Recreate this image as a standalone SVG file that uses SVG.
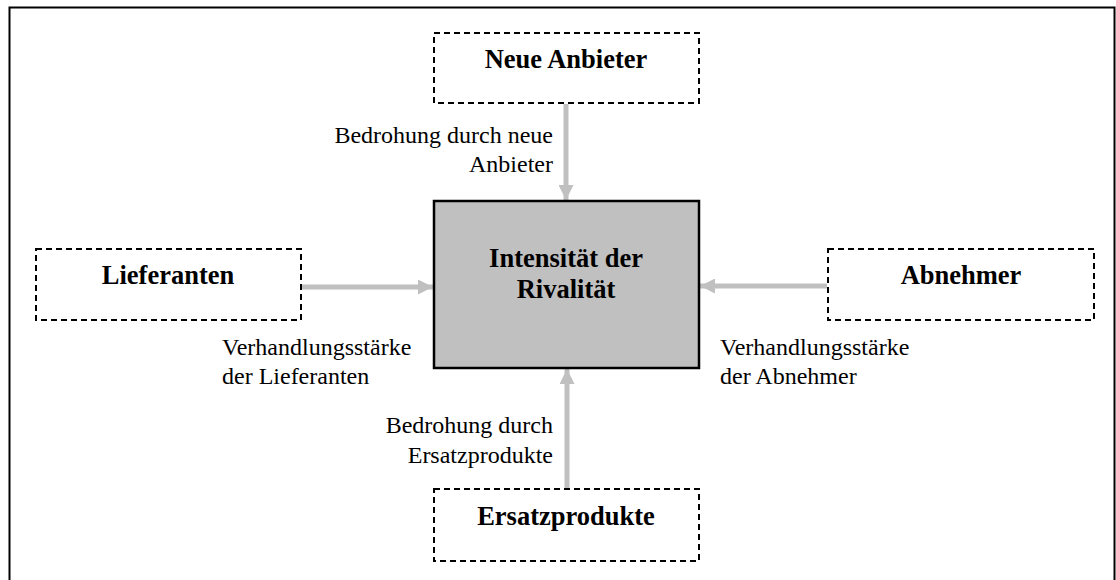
<svg xmlns="http://www.w3.org/2000/svg" width="1116" height="580" viewBox="0 0 1116 580">
  <style>
    .frame { fill: none; stroke: #000; stroke-width: 2; }
    .force { fill: #fff; stroke: #000; stroke-width: 2; stroke-dasharray: 6 4; }
    .core { fill: #c0c0c0; stroke: #000; stroke-width: 2.5; }
    .title { font-family: "Liberation Serif", "Times New Roman", serif; font-weight: bold; font-size: 26.5px; fill: #000; text-anchor: middle; }
    .label { font-family: "Liberation Serif", "Times New Roman", serif; font-size: 24px; fill: #000; }
    .edge { stroke: #c0c0c0; stroke-width: 5; fill: none; marker-end: url(#head); }
  </style>
  <defs>
    <marker id="head" viewBox="0 0 10 10" refX="10" refY="5" markerWidth="3" markerHeight="3" orient="auto" markerUnits="strokeWidth">
      <path d="M0,0 L10,5 L0,10 z" fill="#c0c0c0"/>
    </marker>
  </defs>

  <rect width="1116" height="580" fill="#fff"/>
  <!-- outer frame, open at the bottom edge -->
  <rect class="frame" x="9.5" y="7.5" width="1105" height="600"/>

  <!-- connectors -->
  <g id="connectors">
    <line class="edge" x1="566" y1="104" x2="566" y2="200"/>
    <line class="edge" x1="302" y1="287" x2="433" y2="287"/>
    <line class="edge" x1="827" y1="286" x2="700" y2="286"/>
    <line class="edge" x1="567" y1="488" x2="567" y2="369"/>
  </g>

  <!-- connector labels -->
  <g id="labels">
    <text class="label" text-anchor="end"><tspan x="553" y="143">Bedrohung durch neue</tspan><tspan x="553" y="172">Anbieter</tspan></text>
    <text class="label"><tspan x="222" y="355">Verhandlungsstärke</tspan><tspan x="222" y="384">der Lieferanten</tspan></text>
    <text class="label"><tspan x="720" y="355">Verhandlungsstärke</tspan><tspan x="720" y="384">der Abnehmer</tspan></text>
    <text class="label" text-anchor="end"><tspan x="553" y="433">Bedrohung durch</tspan><tspan x="553" y="463">Ersatzprodukte</tspan></text>
  </g>

  <g id="node-neue-anbieter">
    <rect class="force" x="434" y="33" width="265" height="70"/>
    <text class="title" x="566" y="68">Neue Anbieter</text>
  </g>

  <g id="node-lieferanten">
    <rect class="force" x="36" y="249" width="265" height="71"/>
    <text class="title" x="168" y="284">Lieferanten</text>
  </g>

  <g id="node-rivalitaet">
    <rect class="core" x="434" y="201" width="265" height="167"/>
    <text class="title"><tspan x="566" y="267">Intensität der</tspan><tspan x="566" y="298">Rivalität</tspan></text>
  </g>

  <g id="node-abnehmer">
    <rect class="force" x="828" y="249" width="266" height="71"/>
    <text class="title" x="961" y="284">Abnehmer</text>
  </g>

  <g id="node-ersatzprodukte">
    <rect class="force" x="434" y="489" width="265" height="72"/>
    <text class="title" x="566" y="525">Ersatzprodukte</text>
  </g>
</svg>
